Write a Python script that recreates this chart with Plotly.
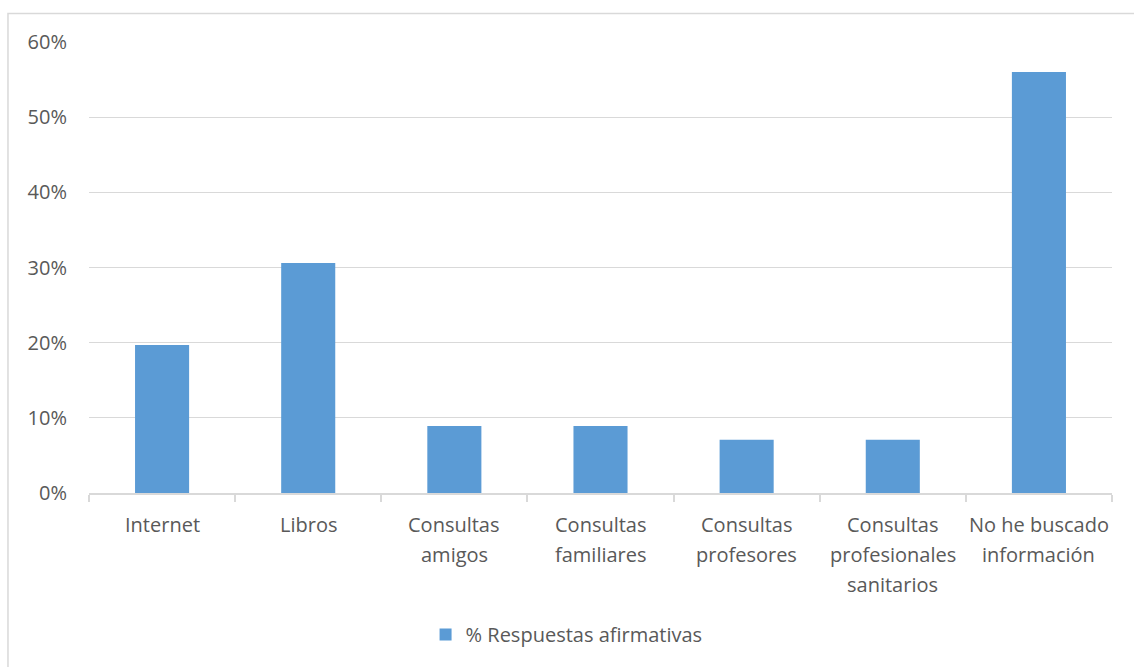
import plotly.graph_objects as go

categories = ["Internet", "Libros", "Consultas amigos", "Consultas familiares",
              "Consultas profesores", "Consultas profesionales sanitarios",
              "No he buscado información"]
label_lines = [["Internet"], ["Libros"], ["Consultas", "amigos"], ["Consultas", "familiares"],
               ["Consultas", "profesores"], ["Consultas", "profesionales", "sanitarios"],
               ["No he buscado", "información"]]
values = [0.197, 0.306, 0.089, 0.089, 0.071, 0.071, 0.560]
series_name = "% Respuestas afirmativas"
y_ticks = [0, 0.1, 0.2, 0.3, 0.4, 0.5, 0.6]

FONT = "Open Sans"
TXT = "#595959"
GRID = "#d9d9d9"
FS = 20

fig = go.Figure()
fig.add_trace(go.Bar(x=categories, y=values, name=series_name,
                     marker=dict(color="#5b9bd5", line=dict(width=0)),
                     showlegend=True))

annotations = []
for cat, lines in zip(categories, label_lines):
    for i, ln in enumerate(lines):
        annotations.append(dict(x=cat, y=0, xref="x", yref="y", text=ln, showarrow=False,
                                yanchor="middle", xanchor="center", yshift=-(31 + 30 * i),
                                font=dict(family=FONT, size=FS, color=TXT)))

fig.update_layout(
    width=1134, height=667,
    margin=dict(l=89, r=22, t=41.5, b=173.7),
    paper_bgcolor="white", plot_bgcolor="white",
    bargap=0.63,
    font=dict(family=FONT, size=FS, color=TXT),
    xaxis=dict(showticklabels=False, showgrid=False, showline=True, linecolor=GRID, linewidth=1.5,
               ticks="outside", tickson="boundaries", ticklen=7, tickcolor=GRID, tickwidth=1.5),
    yaxis=dict(range=[0, 0.6], tickvals=y_ticks, tickformat=".0%", showgrid=True, gridcolor=GRID,
               gridwidth=1.3, zeroline=False, showline=False, ticks="", ticklabelstandoff=21,
               tickfont=dict(family=FONT, size=FS, color=TXT)),
    legend=dict(orientation="h", x=0.329, xanchor="left", y=-0.3136, yanchor="middle",
                font=dict(family=FONT, size=FS, color=TXT)),
    annotations=annotations,
    shapes=[dict(type="rect", xref="paper", yref="paper", x0=-0.0792, x1=1.1, y0=-0.6, y1=1.0631,
                 line=dict(color=GRID, width=1.5), fillcolor="rgba(0,0,0,0)", layer="below")],
)

fig.write_html("out.html")
